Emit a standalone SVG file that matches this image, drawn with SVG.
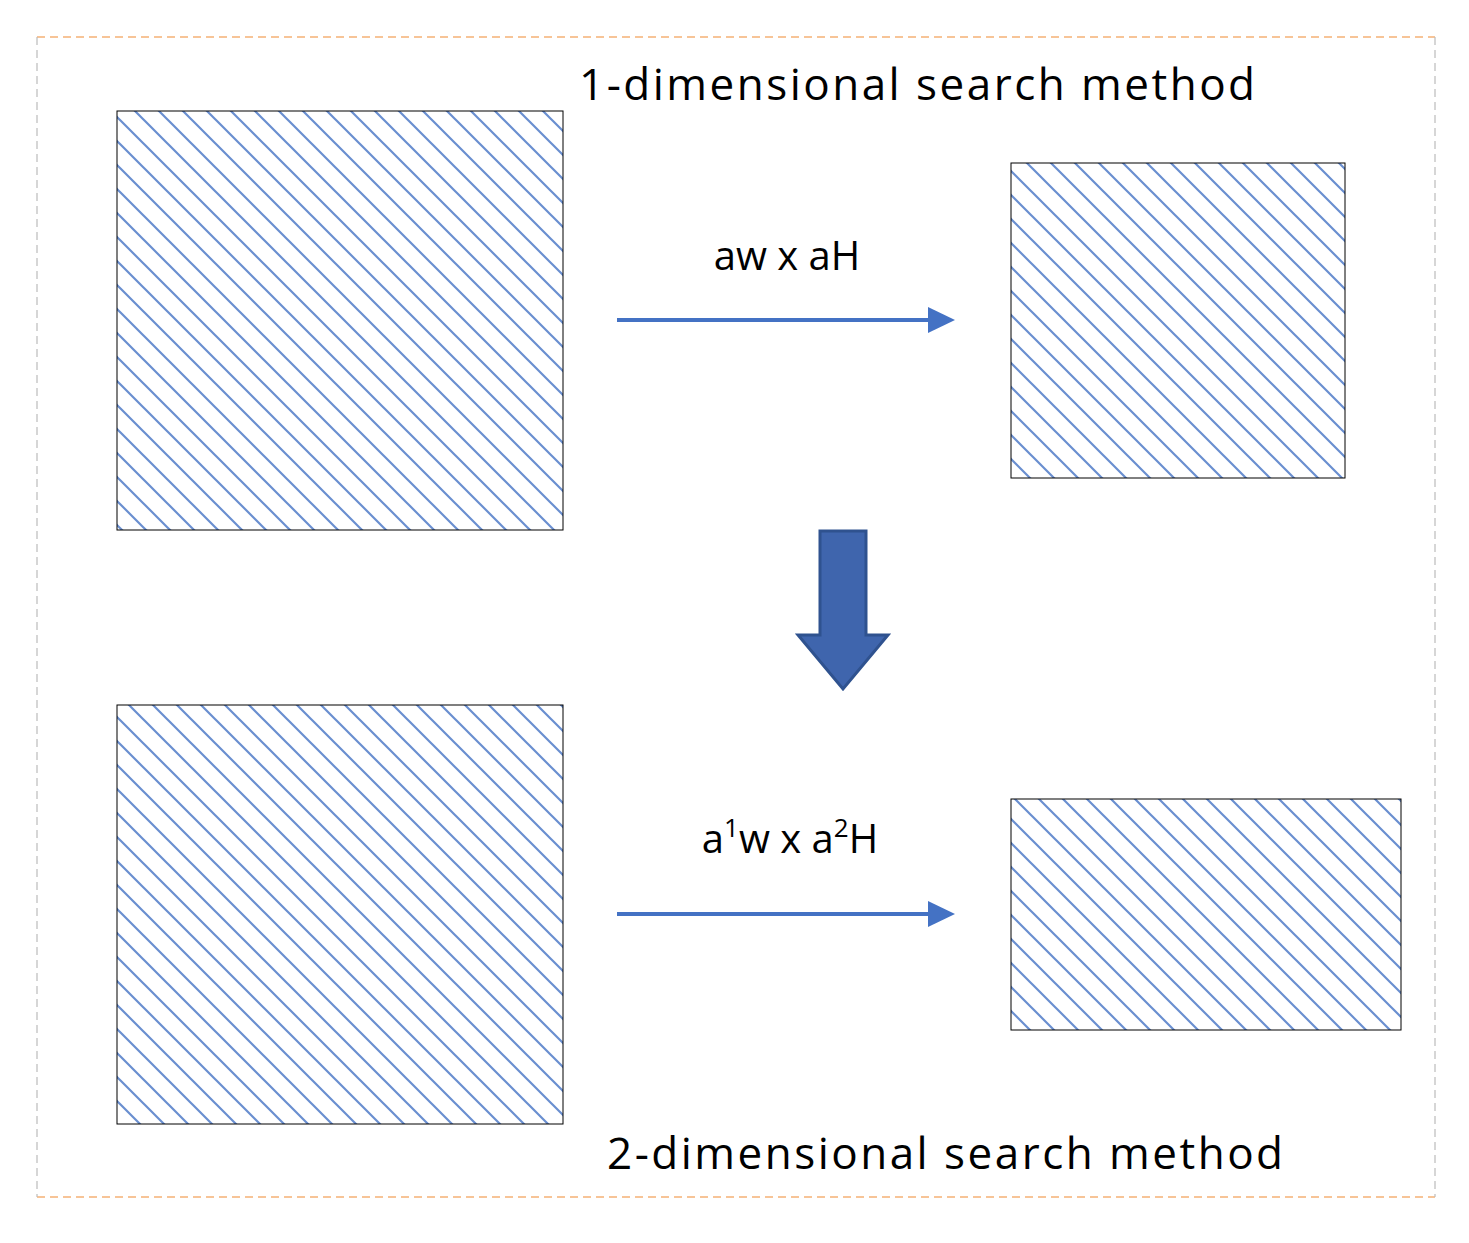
<svg xmlns="http://www.w3.org/2000/svg" width="1469" height="1243" viewBox="0 0 1469 1243">
<style>
.t{font-family:"Open Sans","Liberation Sans",sans-serif;fill:#000}
.box{fill:url(#hatch);stroke:#000;stroke-width:1}
.conn{stroke:#4472C4;stroke-width:4;fill:none}
</style>
<defs>
<pattern id="hatch" patternUnits="userSpaceOnUse" width="24" height="24">
<rect width="24" height="24" fill="#fff"/>
<path d="M-6,-6 L30,30 M-6,18 L6,30 M18,-6 L30,6" stroke="#6a8fd0" stroke-width="2.2"/>
</pattern>
</defs>
<rect width="1469" height="1243" fill="#fff"/>
<line x1="37" y1="37" x2="1435" y2="37" stroke="#F08A30" stroke-width="1.2" stroke-dasharray="8,5"/>
<line x1="37" y1="1197" x2="1435" y2="1197" stroke="#F08A30" stroke-width="1.2" stroke-dasharray="8,5"/>
<line x1="37" y1="37" x2="37" y2="1197" stroke="#bbb" stroke-width="1.2" stroke-dasharray="8,5"/>
<line x1="1435" y1="37" x2="1435" y2="1197" stroke="#bbb" stroke-width="1.2" stroke-dasharray="8,5"/>
<g id="n1"><rect class="box" x="117" y="111" width="446" height="419"/></g>
<g id="n2"><rect class="box" x="1011" y="163" width="334" height="315"/></g>
<g id="n3"><rect class="box" x="117" y="705" width="446" height="419"/></g>
<g id="n4"><rect class="box" x="1011" y="799" width="390" height="231"/></g>
<g id="title1"><text class="t" x="917" y="100" font-size="44" text-anchor="middle" textLength="676">1-dimensional search method</text></g>
<g id="title2"><text class="t" x="945" y="1169" font-size="44" text-anchor="middle" textLength="676">2-dimensional search method</text></g>
<g id="connectors">
<line class="conn" x1="617" y1="320" x2="930" y2="320"/>
<polygon points="928,307 955,320 928,333" fill="#4472C4"/>
<line class="conn" x1="617" y1="914" x2="930" y2="914"/>
<polygon points="928,901 955,914 928,927" fill="#4472C4"/>
<polygon points="820,531 866,531 866,635 888,635 843,689 798,635 820,635" fill="#3F65AD" stroke="#2F528F" stroke-width="3"/>
<text class="t" x="787" y="270" font-size="40" text-anchor="middle">aw x aH</text>
<text class="t" x="790" y="853" font-size="40" text-anchor="middle">a<tspan font-size="26" dy="-16">1</tspan><tspan dy="16">w x a</tspan><tspan font-size="26" dy="-16">2</tspan><tspan dy="16">H</tspan></text>
</g>
</svg>
